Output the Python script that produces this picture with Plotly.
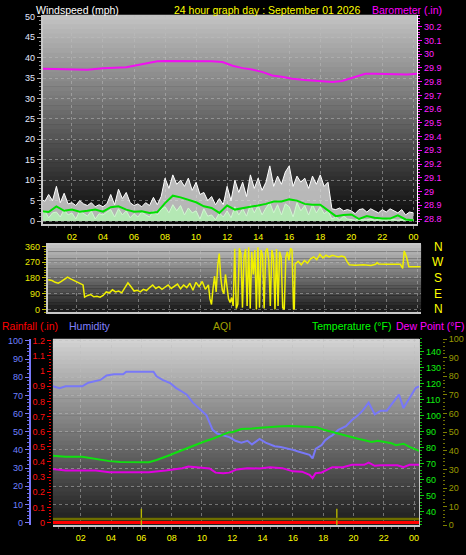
import plotly.graph_objects as go

W, H = 466, 555

# ---------------- data ----------------
hour_ticks = [2, 4, 6, 8, 10, 12, 14, 16, 18, 20, 22, 24]
hour_labels = ["02", "04", "06", "08", "10", "12", "14", "16", "18", "20", "22", "00"]

# wind (15-minute samples)
wind_t = [q / 4 for q in range(97)]
wind_gust = [5.5, 4.8, 6.5, 5.0, 8.5, 4.5, 6.8, 4.2, 4.5, 3.8, 5.0, 4.2, 3.8, 4.5, 3.5, 4.0,
             3.5, 4.2, 6.5, 4.0, 7.8, 5.5, 7.0, 4.5, 3.8, 4.2, 3.5, 4.5, 3.8, 5.8, 4.0, 6.0,
             10.5, 8.0, 11.3, 9.0, 10.0, 8.5, 10.5, 7.5, 9.5, 6.5, 7.0, 5.0, 6.0, 4.0, 5.5, 4.0,
             8.5, 5.0, 10.0, 7.0, 9.5, 6.0, 11.3, 8.0, 10.5, 7.5, 9.5, 13.5, 8.5, 11.0, 9.0, 12.0,
             13.5, 8.5, 11.0, 9.5, 10.5, 8.0, 11.0, 9.0, 11.3, 8.5, 9.5, 3.0, 2.8, 3.2, 2.5, 2.8,
             2.5, 1.8, 2.8, 3.0, 2.2, 3.0, 2.5, 2.0, 2.8, 2.2, 3.0, 2.5, 2.0, 2.8, 1.5, 2.2, 2.0]
wind_speed = [1.5, 2.5, 0.8, 2.0, 2.2, 1.0, 2.8, 1.5, 2.0, 0.5, 2.5, 1.8, 1.2, 2.5, 0.5, 1.8,
              1.5, 2.2, 2.8, 1.0, 3.0, 1.5, 2.5, 0.8, 1.8, 1.0, 2.2, 1.5, 1.0, 2.5, 1.5, 2.8,
              3.5, 2.0, 4.0, 2.5, 3.8, 1.5, 3.2, 2.0, 2.5, 0.5, 3.0, 1.2, 1.5, 0.3, 2.0, 1.0,
              2.5, 0.8, 3.5, 1.5, 3.0, 1.2, 4.0, 2.0, 3.8, 1.5, 3.2, 4.5, 2.0, 4.0, 1.5, 4.2,
              3.5, 1.0, 4.5, 2.5, 3.8, 1.5, 4.0, 2.0, 3.5, 1.8, 2.5, 0.5, 1.0, 0.3, 1.2, 0.5,
              0.4, 0.2, 0.6, 0.3, 0.3, 0.5, 0.2, 0.4, 0.3, 0.2, 0.5, 0.3, 0.2, 0.4, 0.2, 0.3, 0.3]
wind_avg_t = [q / 2 for q in range(49)]
wind_avg = [2.4, 2.2, 3.6, 2.5, 2.8, 2.3, 2.5, 2.8, 2.3, 3.4, 3.6, 2.8, 2.3, 2.4, 2.0, 2.2,
            4.4, 6.2, 5.8, 5.2, 4.6, 3.6, 3.2, 2.0, 3.8, 2.8, 3.2, 3.5, 3.8, 4.2, 4.8, 4.8,
            5.3, 5.0, 4.2, 4.0, 4.0, 2.6, 1.2, 1.5, 1.6, 0.5, 1.2, 0.8, 0.6, 0.6, 1.4, 0.4, 0.2]

# barometer
baro_t = [0.13, 1, 2, 3, 4, 5, 5.5, 6, 6.5, 7, 7.5, 8, 9, 10, 11, 11.7, 12.35, 13, 13.6, 14.3,
          14.9, 15.5, 16.2, 17, 17.5, 18.2, 18.8, 19.4, 20.1, 20.9, 21.5, 22, 23, 23.6, 24.24]
baro = [29.893, 29.89, 29.886, 29.887, 29.897, 29.9, 29.905, 29.915, 29.925, 29.94, 29.948,
        29.95, 29.95, 29.948, 29.948, 29.943, 29.916, 29.898, 29.888, 29.869, 29.845, 29.835,
        29.821, 29.812, 29.809, 29.803, 29.798, 29.805, 29.829, 29.857, 29.858, 29.857,
        29.855, 29.852, 29.857]
baro_ticks = [28.8, 28.9, 29.0, 29.1, 29.2, 29.3, 29.4, 29.5, 29.6, 29.7, 29.8, 29.9, 30.0, 30.1, 30.2]
baro_labels = ["28.8", "28.9", "29", "29.1", "29.2", "29.3", "29.4", "29.5", "29.6", "29.7",
               "29.8", "29.9", "30", "30.1", "30.2"]

# wind direction
dir_t = [0.15, 0.4, 0.6, 0.8, 1.0, 1.2, 1.4, 1.6, 1.8, 2.0, 2.2, 2.4, 2.5, 2.7, 2.9, 3.1, 3.3,
         3.5, 3.7, 3.9, 4.1, 4.3, 4.5, 4.7, 4.9, 5.1, 5.3, 5.5, 5.7, 5.9, 6.1, 6.3, 6.5, 6.7,
         6.9, 7.1, 7.3, 7.5, 7.7, 7.9, 8.1, 8.3, 8.5, 8.7, 8.9, 9.1, 9.3, 9.5, 9.7, 9.9, 10.1,
         10.3, 10.5, 10.6, 10.7, 10.8, 10.9, 11.0, 11.1, 11.2, 11.3, 11.4, 11.5, 11.6, 11.7,
         11.8, 11.9, 12.0, 12.1, 12.2, 12.3, 12.4, 12.5, 12.6, 12.7, 12.8, 12.9, 13.0, 13.1,
         13.2, 13.3, 13.4, 13.5, 13.6, 13.7, 13.8, 13.9, 14.0, 14.1, 14.2, 14.3, 14.4, 14.5,
         14.6, 14.7, 14.8, 14.9, 15.0, 15.1, 15.2, 15.3, 15.4, 15.5, 15.6, 15.7, 15.8, 15.9,
         16.0, 16.05, 16.1, 16.3, 16.5, 16.7, 16.9, 17.1, 17.3, 17.5, 17.7, 17.9, 18.1, 18.3,
         18.5, 18.7, 18.9, 19.1, 19.3, 19.45, 19.6, 20.0, 20.5, 21.0, 21.3, 21.4, 21.5, 22.0,
         22.5, 22.9, 23.05, 23.15, 23.3, 23.45, 23.7, 24.2]
dir_v = [170, 165, 155, 150, 160, 172, 185, 175, 165, 160, 150, 140, 70, 80, 85, 72, 75,
         70, 80, 100, 95, 112, 100, 105, 95, 125, 152, 130, 105, 110, 100, 115, 108, 125,
         140, 120, 130, 115, 128, 140, 120, 135, 145, 118, 140, 125, 150, 110, 155, 130, 160,
         115, 140, 60, 28, 120, 190, 100, 250, 320, 180, 110, 90, 200, 130,
         60, 40, 68, 20, 347, 5, 30, 350, 320, 10, 300, 345, 20, 355,
         5, 330, 200, 340, 0, 355, 10, 340, 310, 5, 330, 350, 280, 20,
         340, 300, 0, 345, 20, 330, 300, 10, 0, 300, 330, 280, 350, 340,
         0, 5, 260, 275, 255, 280, 265, 290, 300, 285, 315, 295, 310, 300,
         310, 305, 300, 305, 300, 275, 255, 253, 255, 252, 258, 268, 260, 258,
         258, 258, 235, 335, 300, 244, 244, 244]
compass_labels = ["N", "W", "S", "E", "N"]
compass_vals = [360, 270, 180, 90, 0]

# humidity / temperature / dew point / rain / AQI
hum_t = [0.16, 0.6, 1.0, 1.5, 2.1, 2.5, 3.0, 3.3, 3.7, 4.2, 4.8, 5.0, 5.5, 6.0, 6.5, 6.8, 7.0,
         7.4, 7.9, 8.3, 8.7, 9.0, 9.4, 9.8, 10.1, 10.3, 10.5, 10.7, 11.0, 11.4, 11.8, 12.0,
         12.2, 12.6, 13.0, 13.3, 13.8, 14.2, 14.5, 14.8, 15.2, 15.6, 16.0, 16.4, 16.8, 17.1,
         17.3, 17.5, 17.9, 18.1, 18.4, 18.6, 19.0, 19.3, 19.5, 19.9, 20.3, 20.6, 21.0, 21.4,
         21.8, 22.2, 22.6, 23.0, 23.3, 23.7, 24.1, 24.33]
hum = [75, 74, 75, 75, 75, 77, 78, 78.5, 81, 81.6, 81.6, 83, 83, 83, 83, 83, 80.5,
       78.5, 76.8, 74, 72, 70.4, 66, 63, 61, 59, 55, 51, 49, 48, 47, 46,
       45, 44, 45, 43, 46, 44, 43, 42, 41.6, 41, 40, 39, 38, 37.3,
       35.3, 40.5, 42.7, 45, 47, 48, 51, 52, 53, 56.4, 59, 61.6, 66, 59.6,
       61.6, 61.6, 66, 70.4, 63, 68.6, 74, 75]
temp_t = [0.16, 1.0, 2.1, 2.8, 3.5, 3.9, 4.6, 5.0, 5.8, 6.5, 7.0, 7.5, 7.9, 8.3, 8.7, 9.2, 9.8,
          10.2, 10.7, 11.2, 11.8, 12.0, 12.6, 13.3, 14.2, 15.0, 15.8, 16.4, 17.0, 17.6, 18.1,
          18.7, 19.3, 19.8, 20.3, 20.8, 21.2, 21.6, 22.1, 22.5, 22.8, 23.3, 23.7, 24.33]
temp = [75, 74.4, 74.4, 73.3, 72.5, 71.6, 71, 70.9, 70.9, 70.9, 72.3, 73.8, 75.4, 77, 78.5,
        80.5, 82.5, 84, 85.6, 87.5, 89.7, 89.7, 91.7, 92, 92.8, 93.3, 93.5, 93.2, 93, 92.8,
        91, 89.5, 87.7, 86.5, 85.6, 84.5, 83.6, 84.3, 83.6, 82.8, 81.5, 82.5, 80.5, 78]
dew_t = [0.16, 1.0, 2.0, 3.0, 3.9, 5.0, 6.5, 7.6, 8.7, 9.1, 9.8, 10.5, 10.9, 11.4, 11.8, 12.3,
         13.0, 13.8, 14.5, 15.3, 16.0, 16.6, 17.1, 17.3, 17.5, 17.9, 18.6, 19.3, 19.9, 20.7,
         21.0, 21.4, 21.8, 22.4, 22.9, 23.3, 23.7, 24.33]
dew = [66.6, 65.8, 65.8, 65.8, 64.7, 64.7, 64.7, 65.8, 67.2, 68.2, 67.8, 67.0, 64.4, 64.0,
       64.4, 66.4, 67.2, 67.0, 67.8, 67.2, 65.2, 65.0, 63.1, 61.0, 64.0, 64.5, 67.8, 67.8,
       69.3, 69.3, 70.7, 68.7, 69.0, 69.0, 69.0, 67.8, 69.3, 69.3]
rain_t = [0.16, 24.33]
rain = [0.0, 0.0]
rain_ticks = [0, 0.1, 0.2, 0.3, 0.4, 0.5, 0.6, 0.7, 0.8, 0.9, 1.0, 1.1, 1.2]
rain_labels = ["0", "0.1", "0.2", "0.3", "0.4", "0.5", "0.6", "0.7", "0.8", "0.9", "1", "1.1", "1.2"]
aqi_t = [0.16, 24.33]
aqi = [3.4, 3.4]
aqi_evt_t = [6.0, 18.9]
aqi_evt = [9.0, 9.0]

# ---------------- helpers ----------------
FONT = "Liberation Sans, Arial, sans-serif"


def px_x(p):
    return p / W


def px_y(p):
    return 1 - p / H


def gradient(xref, yref, top, bottom, n=44):
    out = []
    for i in range(n):
        f = (i + 0.5) / n
        c = [round(top[k] + (bottom[k] - top[k]) * f) for k in range(3)]
        out.append(dict(type="rect", xref=xref, yref=yref, x0=0, x1=1,
                        y0=max(0, 1 - (i + 1) / n - 0.003), y1=1 - i / n,
                        fillcolor=f"rgb({c[0]},{c[1]},{c[2]})", line=dict(width=0),
                        layer="below"))
    return out


GRID = dict(showgrid=True, gridcolor="rgba(190,190,190,0.5)", griddash="dot", gridwidth=1)

fig = go.Figure()

# ---- top panel: wind + barometer ----
fig.add_trace(go.Scatter(x=wind_t, y=wind_gust, mode="lines", xaxis="x", yaxis="y",
                         line=dict(color="rgba(255,255,255,1)", width=1),
                         fill="tozeroy", fillcolor="rgba(222,222,222,0.8)"))
fig.add_trace(go.Scatter(x=wind_t, y=wind_speed, mode="lines", xaxis="x", yaxis="y",
                         line=dict(color="#d0f8d0", width=1),
                         fill="tozeroy", fillcolor="rgba(180,235,180,0.95)"))
fig.add_trace(go.Scatter(x=wind_avg_t, y=wind_avg, mode="lines", xaxis="x", yaxis="y",
                         line=dict(color="#00e000", width=2)))
fig.add_trace(go.Scatter(x=baro_t, y=baro, mode="lines", xaxis="x", yaxis="y2",
                         line=dict(color="#f010f0", width=2)))

# ---- middle panel: wind direction ----
fig.add_trace(go.Scatter(x=dir_t, y=dir_v, mode="lines", xaxis="x2", yaxis="y3",
                         line=dict(color="#f0f000", width=1.5)))

# ---- bottom panel ----
fig.add_trace(go.Scatter(x=hum_t, y=hum, mode="lines", xaxis="x3", yaxis="y4",
                         line=dict(color="#7878f8", width=2)))
fig.add_trace(go.Scatter(x=rain_t, y=rain, mode="lines", xaxis="x3", yaxis="y5",
                         line=dict(color="#ff0000", width=3)))
fig.add_trace(go.Scatter(x=aqi_t, y=aqi, mode="lines", xaxis="x3", yaxis="y7",
                         line=dict(color="#6e6e00", width=2.5)))
fig.add_trace(go.Bar(x=aqi_evt_t, y=aqi_evt, base=-0.1, width=0.09, xaxis="x3", yaxis="y7",
                     marker=dict(color="#b8b800", line=dict(width=0))))
fig.add_trace(go.Scatter(x=temp_t, y=temp, mode="lines", xaxis="x3", yaxis="y6",
                         line=dict(color="#10e010", width=2)))
fig.add_trace(go.Scatter(x=dew_t, y=dew, mode="lines", xaxis="x3", yaxis="y6",
                         line=dict(color="#e000e0", width=2)))

shapes = []
shapes += gradient("x domain", "y domain", (196, 196, 196), (6, 6, 6))
shapes += gradient("x2 domain", "y3 domain", (196, 196, 196), (22, 22, 22), n=20)
shapes += gradient("x3 domain", "y4 domain", (212, 212, 212), (26, 26, 26))

tickfont_x = dict(family=FONT, size=9, color="#ffff00")

annotations = [
    dict(text="Windspeed (mph)", x=px_x(34), y=px_y(5.5), color="#ffffff"),
    dict(text="24 hour graph day : September 01 2026", x=px_x(172), y=px_y(5.5), color="#ffff00"),
    dict(text="Barometer (.in)", x=px_x(371), y=px_y(5.5), color="#ff00ff"),
    dict(text="Rainfall (.in)", x=px_x(0), y=px_y(327), color="#ff0000"),
    dict(text="Humidity", x=px_x(67), y=px_y(327), color="#8080ff"),
    dict(text="AQI", x=px_x(211), y=px_y(327), color="#a0a000"),
    dict(text="Temperature (°F)", x=px_x(311), y=px_y(327), color="#00ff00"),
    dict(text="Dew Point (°F)", x=px_x(395), y=px_y(327), color="#ff00ff"),
]
ann = []
for a in annotations:
    ann.append(dict(text=a["text"], x=a["x"], y=a["y"], xref="paper", yref="paper",
                    xanchor="left", yanchor="middle", showarrow=False,
                    font=dict(family=FONT, size=10.5, color=a["color"])))
for lab, v in zip(compass_labels, compass_vals):
    ann.append(dict(text=lab, x=px_x(439), y=v, xref="paper", yref="y3",
                    xanchor="center", yanchor="middle", showarrow=False,
                    font=dict(family=FONT, size=12, color="#ffff00")))

fig.update_layout(
    width=W, height=H, margin=dict(l=0, r=0, t=0, b=0),
    paper_bgcolor="#000000", plot_bgcolor="rgba(0,0,0,0)",
    showlegend=False, hovermode=False, barmode="overlay",
    shapes=shapes, annotations=ann,
    xaxis=dict(domain=[px_x(43), px_x(418)], anchor="y", range=[0.13, 24.24],
               tickmode="array", tickvals=hour_ticks, ticktext=hour_labels,
               tickfont=tickfont_x, ticks="outside", ticklen=3, tickcolor="#707070",
               minor=dict(ticks="outside", ticklen=2, dtick=0.5, tick0=0, tickcolor="#505050"),
               showline=True, linecolor="#c8c8c8", linewidth=2, zeroline=False, **GRID),
    yaxis=dict(domain=[px_y(223), px_y(10)], anchor="x", range=[-0.72, 50.48],
               dtick=5, tick0=0, tickfont=dict(family=FONT, size=9, color="#e0e8ff"),
               ticks="outside", ticklen=4, tickcolor="#b0b0b0",
               minor=dict(ticks="outside", ticklen=2, dtick=1, tick0=0, tickcolor="#909090"),
               showline=True, linecolor="#c8c8c8", linewidth=2, zeroline=False, **GRID),
    yaxis2=dict(overlaying="y", anchor="x", side="right", range=[28.764, 30.286],
                tickmode="array", tickvals=baro_ticks, ticktext=baro_labels,
                tickfont=dict(family=FONT, size=9, color="#ff20ff"),
                ticks="outside", ticklen=4, tickcolor="#ff00ff",
                minor=dict(ticks="outside", ticklen=2, dtick=0.02, tick0=28.8, tickcolor="#ff40ff"),
                showline=True, linecolor="#ffffff", linewidth=1, showgrid=False, zeroline=False),
    xaxis2=dict(domain=[px_x(48), px_x(422)], anchor="y3", range=[0.13, 24.24],
                tickmode="array", tickvals=hour_ticks, showticklabels=False, ticks="",
                showline=True, linecolor="#c8c8c8", linewidth=2, mirror=True,
                zeroline=False, **GRID),
    yaxis3=dict(domain=[px_y(313), px_y(244)], anchor="x2", range=[-17, 371],
                tickmode="array", tickvals=[0, 90, 180, 270, 360],
                tickfont=dict(family=FONT, size=9, color="#e8e800"),
                ticks="outside", ticklen=4, tickcolor="#c0c000",
                minor=dict(ticks="outside", ticklen=2, dtick=15, tick0=0, tickcolor="#a0a000"),
                showline=True, linecolor="#c8c8c8", linewidth=2, zeroline=False, **GRID),
    xaxis3=dict(domain=[px_x(53), px_x(420)], anchor="y4", range=[0.16, 24.33],
                tickmode="array", tickvals=hour_ticks, ticktext=hour_labels,
                tickfont=tickfont_x, ticks="outside", ticklen=3, tickcolor="#707070",
                minor=dict(ticks="outside", ticklen=2, dtick=0.5, tick0=0, tickcolor="#505050"),
                showline=True, linecolor="#c8c8c8", linewidth=2, zeroline=False, **GRID),
    yaxis4=dict(domain=[px_y(530), px_y(340)], anchor="free", position=px_x(30), side="left",
                range=[-1.6, 101.1], dtick=10, tick0=0,
                tickfont=dict(family=FONT, size=9, color="#7080ff"),
                ticks="outside", ticklen=4, tickcolor="#7878f8",
                minor=dict(ticks="outside", ticklen=2, dtick=2, tick0=0, tickcolor="#6868e8"),
                showline=True, linecolor="#7878f8", linewidth=2, zeroline=False, **GRID),
    yaxis5=dict(overlaying="y4", anchor="free", position=px_x(51), side="left",
                range=[-0.019, 1.213], tickmode="array", tickvals=rain_ticks, ticktext=rain_labels,
                tickfont=dict(family=FONT, size=9, color="#ff1010"),
                ticks="outside", ticklen=4, tickcolor="#ff0000",
                minor=dict(ticks="outside", ticklen=2, dtick=0.02, tick0=0, tickcolor="#e00000"),
                showline=False, showgrid=False, zeroline=False),
    yaxis6=dict(overlaying="y4", anchor="x3", side="right", range=[31.4, 148],
                dtick=10, tick0=0, tickfont=dict(family=FONT, size=9, color="#10f010"),
                ticks="outside", ticklen=4, tickcolor="#10d010",
                minor=dict(ticks="outside", ticklen=2, dtick=2, tick0=0, tickcolor="#10b010"),
                showline=True, linecolor="#c8c8c8", linewidth=1, showgrid=False, zeroline=False),
    yaxis7=dict(overlaying="y4", anchor="free", position=px_x(443), side="right",
                range=[-0.1, 100.1], dtick=10, tick0=0,
                tickfont=dict(family=FONT, size=9, color="#9a9a00"),
                ticks="outside", ticklen=4, tickcolor="#808000",
                minor=dict(ticks="outside", ticklen=2, dtick=2, tick0=0, tickcolor="#707000"),
                showline=False, showgrid=False, zeroline=False),
)

fig.write_html("out.html", config={"staticPlot": True},
               post_script="document.body.style.margin='0';document.body.style.overflow='hidden';")
